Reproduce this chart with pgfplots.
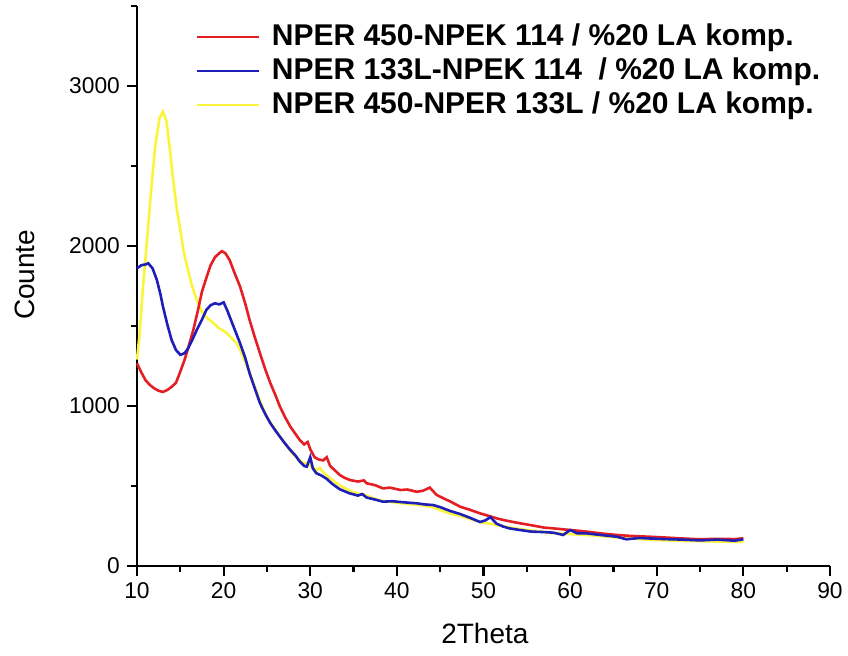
\documentclass[border=0pt]{standalone}
\usepackage{pgfplots}
\pgfplotsset{compat=1.18}
\usepackage{fontspec}
\setmainfont{Liberation Sans}
\definecolor{cred}{RGB}{228,30,35}
\definecolor{cblue}{RGB}{30,30,185}
\definecolor{cyel}{RGB}{250,245,60}
\begin{document}
\begin{tikzpicture}
\begin{axis}[
  scale only axis, width=346.5pt, height=280pt,
  xmin=10, xmax=90, ymin=0, ymax=3500,
  axis lines*=left,
  axis line style={line width=1.2pt},
  xtick={10,20,...,90}, ytick={0,1000,2000,3000},
  minor xtick={15,25,...,85}, minor ytick={500,1500,2500,3500},
  tick align=outside,
  major tick length=5pt, minor tick length=3pt,
  every tick/.style={black, line width=1.1pt},
  tick label style={font=\fontsize{11.4}{13}\selectfont},
  /pgf/number format/assume math mode=true,
  /pgf/number format/set thousands separator={},
  xlabel={2Theta}, ylabel={Counte},
  label style={font=\fontsize{14}{16}\selectfont},
  xlabel style={at={(axis description cs:0.502,-0.1214)}, anchor=center},
  ylabel style={at={(axis description cs:-0.1616,0.52)}, anchor=center},
  legend style={at={(axis description cs:0.0835,0.972)}, anchor=north west, draw=none, fill=none, inner sep=0pt,
    font=\bfseries\fontsize{15}{17}\selectfont, row sep=2pt, column sep=5.5pt,
    nodes={inner sep=0.5pt, text height=11pt, text depth=3pt}},
  legend cell align=left,
  legend image code/.code={\draw[#1, line width=1.3pt] (0pt,0pt) -- (31pt,0pt);},
  clip=false,
]
\addplot[cyel, line width=1.3pt, forget plot] coordinates {
(10.0,1290) (10.3,1450) (10.7,1750) (11.1,1996) (11.6,2330) (12.1,2621) (12.6,2800) (13.0,2840) (13.4,2780) (13.8,2600) (14.2,2400) (14.6,2230) (15.0,2100) (15.4,1960) (15.7,1893) (16.3,1760) (16.9,1662) (17.5,1590) (18.0,1555) (18.4,1537) (19.0,1510) (19.5,1485) (20.0,1470) (20.4,1454) (21.0,1420) (21.5,1392) (22.0,1340) (23.0,1210) (24.0,1060) (25.0,930) (26.0,850) (27.0,770) (28.0,700) (29.0,650) (29.7,640) (30.2,620) (30.7,600) (31.1,612) (31.6,580) (32.5,540) (33.5,500) (35.0,460) (36.5,440) (38.0,410) (40.0,395) (42.0,385) (44.0,370) (46.0,330) (47.5,310) (49.0,285) (50.0,270) (51.0,262) (52.5,245) (55.0,225) (58.0,205) (60.0,200) (63.0,190) (66.0,175) (70.0,162) (75.0,155) (80.0,150)
};
\addplot[cred, line width=1.3pt] coordinates {
(10.0,1267) (10.5,1210) (11.0,1160) (11.5,1131) (12.0,1110) (12.5,1095) (13.0,1088) (13.5,1100) (14.0,1120) (14.5,1145) (15.0,1215) (15.5,1290) (16.0,1380) (16.5,1475) (17.0,1590) (17.5,1715) (18.0,1800) (18.5,1880) (19.0,1930) (19.5,1955) (19.8,1968) (20.2,1955) (20.7,1912) (21.2,1840) (21.9,1746) (22.5,1640) (23.0,1537) (23.6,1430) (24.2,1329) (24.8,1230) (25.4,1142) (26.0,1065) (26.5,996) (27.1,930) (27.7,871) (28.3,825) (28.8,787) (29.3,760) (29.7,775) (30.0,730) (30.5,680) (31.0,665) (31.5,660) (31.9,680) (32.3,625) (33.0,590) (33.4,569) (34.0,550) (34.6,537) (35.5,528) (36.2,535) (36.5,517) (37.5,505) (38.4,485) (39.2,490) (40.4,475) (41.2,478) (42.3,464) (43.0,470) (43.8,490) (44.6,444) (45.5,420) (46.1,405) (47.3,371) (48.5,350) (49.6,329) (50.5,315) (51.5,298) (52.5,285) (54.2,267) (55.5,255) (57.0,240) (58.1,235) (60.0,225) (61.9,215) (63.5,204) (65.4,194) (67.0,188) (69.2,183) (71.0,178) (73.0,172) (75.0,167) (77.0,170) (79.0,168) (80.0,173)
};
\addlegendentry{NPER 450-NPEK 114 / \%20 LA komp.}
\addplot[cblue, line width=1.3pt] coordinates {
(10.0,1860) (10.5,1880) (11.0,1885) (11.3,1892) (11.8,1860) (12.3,1787) (12.7,1700) (13.0,1621) (13.5,1510) (14.0,1412) (14.5,1350) (15.0,1320) (15.5,1330) (15.9,1360) (16.4,1415) (16.9,1475) (17.5,1540) (18.0,1600) (18.5,1630) (19.0,1642) (19.5,1635) (20.0,1648) (20.4,1600) (20.7,1558) (21.3,1475) (21.9,1392) (22.5,1300) (23.0,1204) (23.6,1110) (24.2,1017) (24.8,950) (25.4,892) (26.0,845) (26.5,808) (27.1,765) (27.7,725) (28.3,690) (28.8,652) (29.3,625) (29.6,621) (30.0,680) (30.3,610) (30.7,580) (31.3,565) (31.9,545) (32.5,515) (33.4,480) (34.5,455) (35.5,440) (36.0,450) (36.5,428) (37.5,415) (38.4,402) (39.5,405) (40.4,400) (41.5,395) (42.3,392) (43.2,385) (44.2,381) (45.0,368) (46.1,345) (47.3,325) (48.5,300) (49.6,275) (50.2,285) (50.8,305) (51.5,265) (52.3,246) (53.0,235) (54.2,225) (55.5,215) (57.0,212) (58.1,208) (59.2,194) (60.0,225) (60.8,205) (61.9,204) (63.5,194) (65.4,183) (66.5,167) (68.0,175) (69.2,172) (71.0,168) (73.0,165) (75.0,160) (77.0,165) (79.0,158) (80.0,167)
};
\addlegendentry{NPER 133L-NPEK 114\ \ / \%20 LA komp.}
\addlegendimage{cyel, line width=1.3pt}
\addlegendentry{NPER 450-NPER 133L / \%20 LA komp.}
\end{axis}
\pgfresetboundingbox
\path[use as bounding box] (-68.5pt,-44.5pt) rectangle (355.5pt,283pt);
\end{tikzpicture}
\end{document}
